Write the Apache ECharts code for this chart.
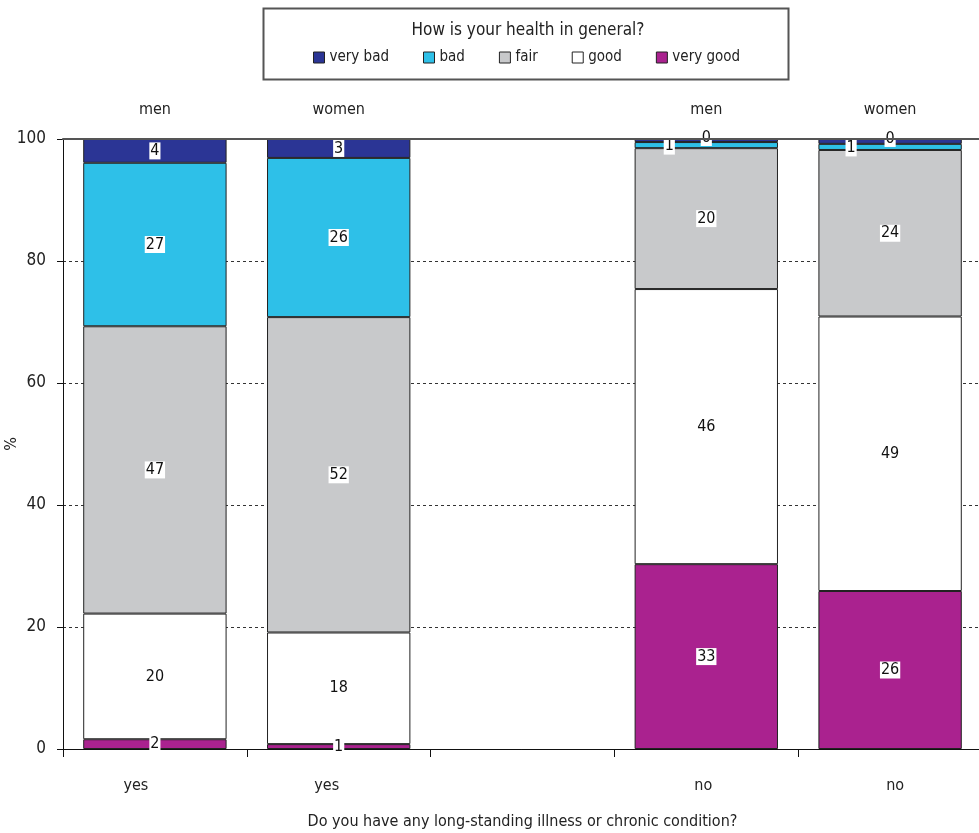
<!DOCTYPE html>
<html>
<head>
<meta charset="utf-8">
<script src="https://cdn.jsdelivr.net/npm/echarts@6/dist/echarts.min.js"></script>
<style>html,body{margin:0;padding:0;background:#fff}#c{width:979px;height:833px}</style>
</head>
<body>
<div id="c"></div>
<script>
// ---- data ----
const categories = ['yes', 'yes', '', 'no', 'no'];
const groups = ['men', 'women', '', 'men', 'women'];
const legendOrder = ['very bad', 'bad', 'fair', 'good', 'very good'];
// bar heights (%), bottom to top
const veryGood = [1.6, 0.8, null, 30.3, 25.9];
const good = [20.6, 18.3, null, 45.1, 45.0];
const fair = [47.1, 51.7, null, 23.1, 27.3];
const bad = [26.8, 26.1, null, 1.0, 1.0];
const veryBad = [3.9, 3.1, null, 0.5, 0.8];
// printed labels
const veryGoodLabels = ['2', '1', '', '33', '26'];
const goodLabels = ['20', '18', '', '46', '49'];
const fairLabels = ['47', '52', '', '20', '24'];
const badLabels = ['27', '26', '', '1', '1'];
const veryBadLabels = ['4', '3', '', '0', '0'];
const yTicks = [0, 20, 40, 60, 80, 100];

// ---- styling (kept separate from data) ----
const FONT = "'Liberation Sans Narrow', 'DejaVu Sans Condensed', 'Liberation Sans', sans-serif";
const colors = {'very good': '#AA228F', 'good': '#FFFFFF', 'fair': '#C8C9CB', 'bad': '#2EC0E8', 'very bad': '#2B3595'};
const xLabelShift = [-19, -12, 0, -3, 5];
const labelOffsets = {
  'bad': {3: [-37, 1], 4: [-39, 1]},
  'very bad': {3: [0, -3], 4: [0, -3]}
};

const stackDefs = [
  ['very good', veryGood, veryGoodLabels],
  ['good', good, goodLabels],
  ['fair', fair, fairLabels],
  ['bad', bad, badLabels],
  ['very bad', veryBad, veryBadLabels]
];

const series = stackDefs.map(([name, vals, labs]) => ({
  name: name,
  type: 'bar',
  stack: 'total',
  barCategoryGap: '22%',
  itemStyle: {color: colors[name], borderColor: '#222', borderWidth: 1},
  data: vals.map((v, i) => {
    const item = {value: v};
    const off = (labelOffsets[name] || {})[i];
    if (off) item.label = {offset: off};
    return item;
  }),
  label: {
    show: true,
    position: 'inside',
    formatter: p => labs[p.dataIndex],
    backgroundColor: '#fff',
    padding: [1, 1, 0, 1],
    color: '#111',
    fontSize: 16,
    fontFamily: FONT
  }
}));

const chart = echarts.init(document.getElementById('c'), null, {renderer: 'canvas'});
chart.setOption({
  animation: false,
  textStyle: {fontFamily: FONT},
  title: {
    text: 'How is your health in general?',
    left: 523, top: 17, textAlign: 'center',
    textStyle: {fontSize: 17, fontWeight: 'normal', color: '#222', fontFamily: FONT}
  },
  legend: {
    data: legendOrder,
    left: 313, top: 50, padding: 0,
    itemWidth: 11, itemHeight: 11, itemGap: 34,
    icon: 'rect',
    itemStyle: {borderColor: '#222', borderWidth: 1},
    textStyle: {fontSize: 15, color: '#222', fontFamily: FONT}
  },
  graphic: [{
    type: 'rect', left: 261, top: 6,
    shape: {width: 525, height: 71},
    style: {fill: 'none', stroke: '#555', lineWidth: 2}
  }],
  grid: {left: 63, right: -3, top: 139, bottom: 84, containLabel: false, outerBoundsMode: 'none'},
  xAxis: [{
    type: 'category',
    position: 'bottom',
    data: categories.map((c, i) => {
      const s = xLabelShift[i];
      return {value: c, textStyle: {padding: s < 0 ? [0, -2 * s, 0, 0] : [0, 0, 0, 2 * s]}};
    }),
    axisLine: {show: true, lineStyle: {color: '#111', width: 1}},
    axisTick: {show: true, length: 8, lineStyle: {color: '#111'}},
    axisLabel: {margin: 29, fontSize: 16, color: '#222', fontFamily: FONT},
    name: 'Do you have any long-standing illness or chronic condition?',
    nameLocation: 'middle', nameGap: 65, nameMoveOverlap: false,
    nameTextStyle: {fontSize: 16, color: '#222', fontFamily: FONT, verticalAlign: 'top'}
  }, {
    type: 'category',
    position: 'top',
    data: groups,
    z: 10,
    axisLine: {show: true, lineStyle: {color: '#555', width: 2}},
    axisTick: {show: false},
    axisLabel: {margin: 21, fontSize: 16, color: '#222', fontFamily: FONT}
  }],
  yAxis: {
    type: 'value',
    min: yTicks[0], max: yTicks[yTicks.length - 1], interval: 20,
    axisLine: {show: true, lineStyle: {color: '#111', width: 1}},
    axisTick: {show: true, length: 6, lineStyle: {color: '#111'}},
    axisLabel: {margin: 17, fontSize: 17, color: '#222', fontFamily: FONT},
    splitLine: {show: true, lineStyle: {color: '#333', type: [3, 3], width: 1}},
    name: '%', nameLocation: 'middle', nameGap: 51, nameRotate: 90, nameMoveOverlap: false,
    nameTextStyle: {fontSize: 16, color: '#222', fontFamily: FONT, align: 'center', verticalAlign: 'middle'}
  },
  series: series
});
</script>
</body>
</html>
